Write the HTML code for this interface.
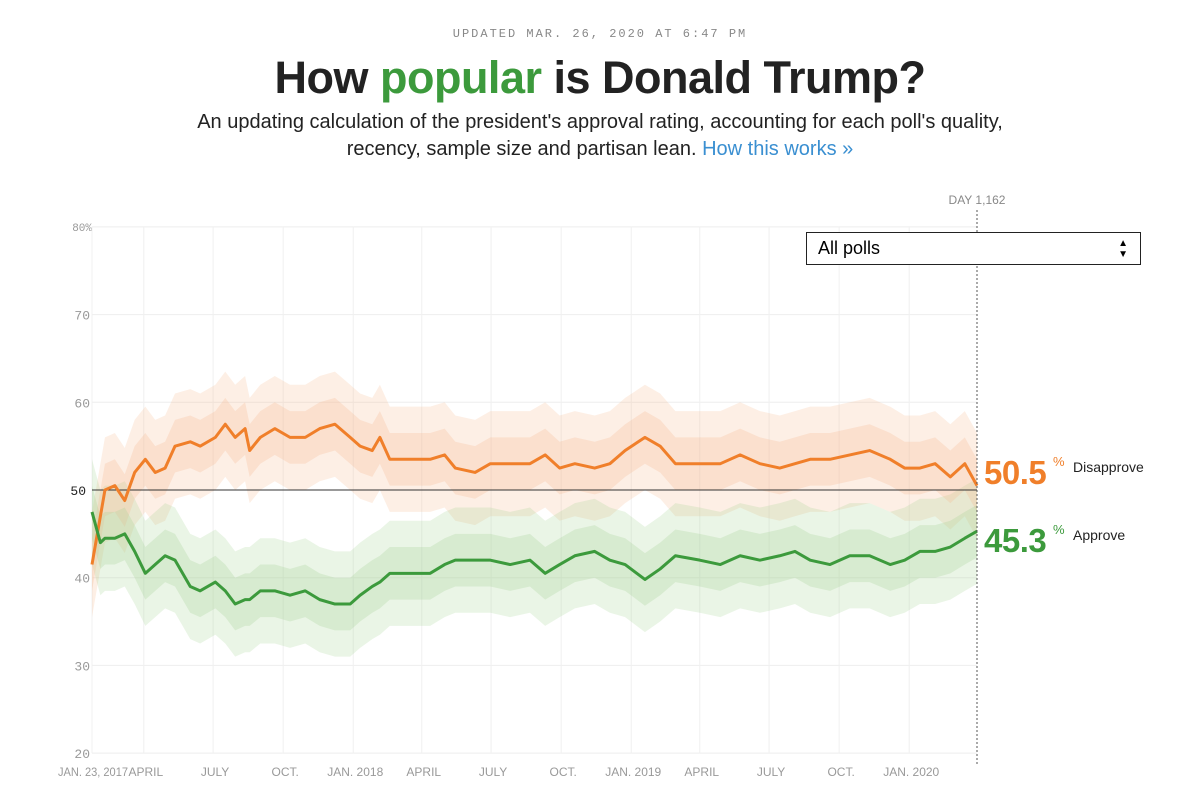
<!DOCTYPE html>
<html><head><meta charset="utf-8">
<style>
body{margin:0;background:#fff;width:1200px;height:789px;overflow:hidden;font-family:"Liberation Sans",sans-serif;position:relative}
.abs{position:absolute}
</style></head><body>
<div class="abs" style="left:0;width:1200px;top:27px;text-align:center;font-family:'Liberation Mono',monospace;font-size:12px;letter-spacing:2px;color:#888">UPDATED MAR. 26, 2020 AT 6:47 PM</div>
<div class="abs" style="left:0;width:1200px;top:52px;text-align:center;font-size:45px;font-weight:bold;color:#222;letter-spacing:-0.5px">How <span style="color:#3c9a3c">popular</span> is Donald Trump?</div>
<div class="abs" style="left:0;width:1200px;top:109px;text-align:center;font-size:20px;line-height:27px;color:#222">An updating calculation of the president's approval rating, accounting for each poll's quality,<br>recency, sample size and partisan lean. <span style="color:#3a8fd1">How this works »</span></div>
<div class="abs" style="left:806px;top:232px;width:333px;height:31px;border:1.5px solid #222;font-size:18px;line-height:31px;box-sizing:content-box;background:#fff;z-index:2"><span style="margin-left:11px">All polls</span><span style="position:absolute;right:12px;top:0;font-size:10px;line-height:11px;padding-top:5px">▲<br>▼</span></div>
<svg class="abs" style="left:0;top:0" width="1200" height="789" id="chart"></svg>
<script>
const days=[0,11,17,30,43,56,70,83,96,109,129,142,162,175,188,201,207,221,240,260,280,299,319,339,352,368,378,391,417,444,463,477,503,523,549,575,595,614,634,660,680,700,726,746,766,798,825,851,877,903,923,943,969,995,1021,1048,1067,1087,1107,1127,1146,1162];
const disapprove=[41.5,47,50,50.5,48.8,52,53.5,52,52.5,55,55.5,55,56,57.5,56,57,54.5,56,57,56,56,57,57.5,56,55,54.5,56,53.5,53.5,53.5,54,52.5,52,53,53,53,54,52.5,53,52.5,53,54.5,56,55,53,53,53,54,53,52.5,53,53.5,53.5,54,54.5,53.5,52.5,52.5,53,51.5,53,50.5];
const approve=[47.5,44,44.5,44.5,45,43,40.5,41.5,42.5,42,39,38.5,39.5,38.5,37,37.5,37.5,38.5,38.5,38,38.5,37.5,37,37,38,39,39.5,40.5,40.5,40.5,41.5,42,42,42,41.5,42,40.5,41.5,42.5,43,42,41.5,39.8,41,42.5,42,41.5,42.5,42,42.5,43,42,41.5,42.5,42.5,41.5,42,43,43,43.5,44.5,45.3];
const yTicks=[80,70,60,50,40,30,20];
const xTickDays=[0,68,159,251,343,433,524,616,708,798,889,981,1073];
const xTickLabels=["JAN. 23, 2017","APRIL","JULY","OCT.","JAN. 2018","APRIL","JULY","OCT.","JAN. 2019","APRIL","JULY","OCT.","JAN. 2020"];
const x0=92,x1=977,maxDay=1162;
const X=d=>x0+(x1-x0)*d/maxDay;
const Y=v=>490-(v-50)*8.77;
const svg=document.getElementById('chart');
const NS='http://www.w3.org/2000/svg';
function mk(t,a){const e=document.createElementNS(NS,t);for(const k in a)e.setAttribute(k,a[k]);svg.appendChild(e);return e;}
yTicks.forEach(v=>{
 const l=mk('line',{x1:x0,x2:x1,y1:Y(v),y2:Y(v),stroke:v===50?'#333':'#eee','stroke-width':1});
 
 
 const t=mk('text',{x:v===50?86:90,y:Y(v)+5,'text-anchor':'end','font-size':13,fill:v===50?'#222':'#999','font-family':'Liberation Mono, monospace'});
 t.textContent=v===80?'80%':String(v);
 if(v===80){t.setAttribute('x',92);t.setAttribute('font-size',11);t.setAttribute('y',Y(v)+4);}
 
 
});
xTickDays.forEach((d,i)=>{
 const l=mk('line',{x1:X(d),x2:X(d),y1:Y(80),y2:Y(20),stroke:'#f0f0f0'});
 
 
 const t=mk('text',{x:i===0?58:X(d)+2,y:776,'text-anchor':i===0?'start':'middle','font-size':12,fill:'#999'});
 t.textContent=xTickLabels[i];
 if(i===0){t.setAttribute('textLength','70');t.setAttribute('lengthAdjust','spacingAndGlyphs');}
 
 
});
function band(vals,w,color,op,name){
 let p='';days.forEach((d,i)=>p+=(i?'L':'M')+X(d)+','+Y(vals[i]+w));
 for(let i=days.length-1;i>=0;i--)p+='L'+X(days[i])+','+Y(vals[i]-w);
 const e=mk('path',{d:p+'Z',fill:color,'fill-opacity':op});
 
 
}
band(disapprove,6,'#f7b48a',0.22,'disapprove-outer-band');
band(approve,6,'#9fd08f',0.22,'approve-outer-band');
band(disapprove,3,'#f7b48a',0.25,'disapprove-band');
band(approve,3,'#9fd08f',0.25,'approve-band');
function line(vals,color,name){
 let p='';days.forEach((d,i)=>p+=(i?'L':'M')+X(d)+','+Y(vals[i]));
 const e=mk('path',{d:p,fill:'none',stroke:color,'stroke-width':3,'stroke-linejoin':'round'});
 
 
}
mk('line',{x1:x0,x2:x1,y1:Y(50),y2:Y(50),stroke:'#333'});
line(disapprove,'#f07f2a','disapprove-line');
line(approve,'#3c9a3c','approve-line');
const dl=mk('line',{x1:x1,x2:x1,y1:210,y2:765,stroke:'#555','stroke-dasharray':'2,2'});


const dt=mk('text',{x:x1,y:204,'text-anchor':'middle','font-size':12,fill:'#888'});
dt.textContent='DAY 1,162';


function endLabel(v,color,txt,name,base){
 const g=mk('text',{x:984,y:base,'font-size':33,'font-weight':'bold',fill:color,'letter-spacing':'-0.5'});
 g.textContent=v.toFixed(1);
 
 
 const p=mk('text',{x:1053,y:base-18,'font-size':13,fill:color});
 p.textContent='%';
 const t=mk('text',{x:1073,y:base-12,'font-size':14,fill:'#222'});
 t.textContent=txt;
 
 
}
endLabel(disapprove[disapprove.length-1],'#f07f2a','Disapprove','disapprove',484);
endLabel(approve[approve.length-1],'#3c9a3c','Approve','approve',552);
</script>
</body></html>
